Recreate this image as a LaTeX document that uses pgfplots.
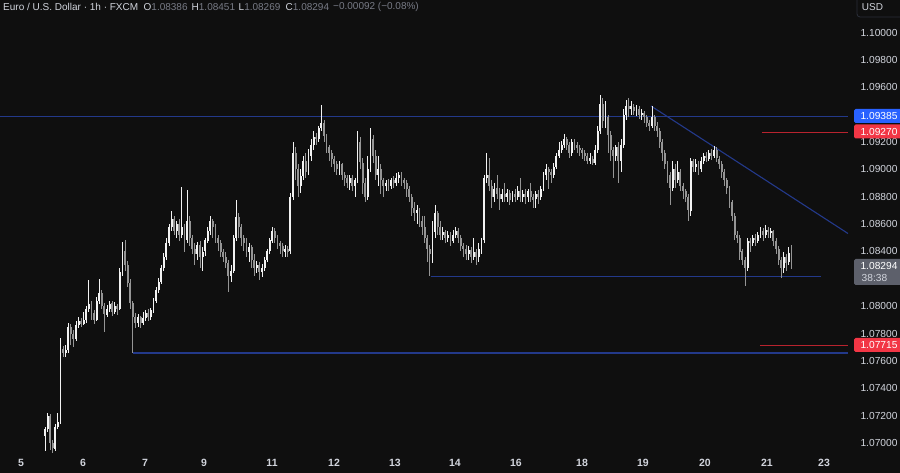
\documentclass[border=0pt]{standalone}
\usepackage{pgfplots}
\pgfplotsset{compat=1.18}
\usepackage{pgfplotstable}
\usepackage{fontspec}
\setmainfont{Liberation Sans}
\definecolor{bg}{HTML}{0F0F0F}
\definecolor{txt}{HTML}{D1D4DC}
\definecolor{dim}{HTML}{787B86}
\definecolor{upc}{HTML}{F2F2F2}
\definecolor{dnc}{HTML}{959595}
\definecolor{lblue}{HTML}{23398A}
\definecolor{lred}{HTML}{B8232E}
\definecolor{tblue}{HTML}{2962FF}
\definecolor{tred}{HTML}{F23645}
\definecolor{tgray}{HTML}{5D606B}
\definecolor{boxc}{HTML}{2A2E39}

\pgfplotstableread{
o h l c
1.0705 1.0712 1.0694 1.0710
1.0710 1.0722 1.0708 1.0720
1.0720 1.0721 1.0695 1.0700
1.0700 1.0702 1.0693 1.0696
1.0696 1.0714 1.0694 1.0712
1.0712 1.0722 1.0710 1.0715
1.0715 1.0777 1.0714 1.0769
1.0769 1.0771 1.0763 1.0766
1.0766 1.0772 1.0763 1.0768
1.0768 1.0788 1.0766 1.0785
1.0785 1.0787 1.0772 1.0780
1.0780 1.0783 1.0770 1.0776
1.0776 1.0789 1.0775 1.0786
1.0786 1.0792 1.0784 1.0789
1.0789 1.0791 1.0785 1.0787
1.0787 1.0796 1.0786 1.0790
1.0790 1.0800 1.0788 1.0798
1.0798 1.0819 1.0796 1.0802
1.0802 1.0804 1.0790 1.0795
1.0795 1.0797 1.0787 1.0790
1.0790 1.0807 1.0789 1.0804
1.0804 1.0820 1.0802 1.0810
1.0810 1.0812 1.0798 1.0800
1.0800 1.0802 1.0781 1.0794
1.0794 1.0801 1.0792 1.0798
1.0798 1.0804 1.0796 1.0802
1.0802 1.0804 1.0793 1.0796
1.0796 1.0803 1.0794 1.0800
1.0800 1.0802 1.0794 1.0798
1.0798 1.0828 1.0797 1.0825
1.0825 1.0847 1.0822 1.0840
1.0840 1.0848 1.0826 1.0830
1.0830 1.0833 1.0814 1.0817
1.0817 1.0820 1.0798 1.0802
1.0802 1.0804 1.0766 1.0792
1.0792 1.0795 1.0784 1.0788
1.0788 1.0794 1.0785 1.0792
1.0792 1.0793 1.0784 1.0788
1.0788 1.0796 1.0786 1.0791
1.0791 1.0797 1.0789 1.0795
1.0795 1.0798 1.0789 1.0792
1.0792 1.0799 1.0790 1.0797
1.0797 1.0806 1.0795 1.0804
1.0804 1.0814 1.0802 1.0812
1.0812 1.0821 1.0810 1.0818
1.0818 1.0830 1.0816 1.0828
1.0828 1.0839 1.0826 1.0836
1.0836 1.0850 1.0834 1.0846
1.0846 1.0860 1.0844 1.0858
1.0858 1.0870 1.0855 1.0864
1.0864 1.0866 1.0852 1.0855
1.0855 1.0862 1.0850 1.0860
1.0860 1.0864 1.0848 1.0852
1.0852 1.0887 1.0850 1.0858
1.0858 1.0860 1.0840 1.0848
1.0848 1.0885 1.0846 1.0862
1.0862 1.0866 1.0844 1.0850
1.0850 1.0852 1.0838 1.0842
1.0842 1.0846 1.0830 1.0838
1.0838 1.0847 1.0834 1.0845
1.0845 1.0848 1.0828 1.0836
1.0836 1.0843 1.0826 1.0840
1.0840 1.0850 1.0837 1.0848
1.0848 1.0858 1.0846 1.0855
1.0855 1.0866 1.0852 1.0862
1.0862 1.0864 1.0850 1.0858
1.0858 1.0860 1.0846 1.0850
1.0850 1.0852 1.0840 1.0846
1.0846 1.0848 1.0836 1.0840
1.0840 1.0842 1.0832 1.0836
1.0836 1.0840 1.0828 1.0832
1.0832 1.0834 1.0810 1.0822
1.0822 1.0830 1.0818 1.0826
1.0826 1.0852 1.0824 1.0850
1.0850 1.0878 1.0848 1.0865
1.0865 1.0868 1.0850 1.0858
1.0858 1.0860 1.0844 1.0850
1.0850 1.0852 1.0840 1.0846
1.0846 1.0850 1.0836 1.0840
1.0840 1.0846 1.0832 1.0843
1.0843 1.0845 1.0828 1.0834
1.0834 1.0838 1.0822 1.0828
1.0828 1.0833 1.0824 1.0830
1.0830 1.0832 1.0819 1.0825
1.0825 1.0831 1.0821 1.0828
1.0828 1.0836 1.0826 1.0834
1.0834 1.0842 1.0832 1.0840
1.0840 1.0850 1.0838 1.0848
1.0848 1.0858 1.0846 1.0855
1.0855 1.0857 1.0846 1.0850
1.0850 1.0852 1.0842 1.0846
1.0846 1.0848 1.0838 1.0844
1.0844 1.0846 1.0836 1.0840
1.0840 1.0845 1.0836 1.0842
1.0842 1.0844 1.0836 1.0840
1.0840 1.0883 1.0838 1.0880
1.0880 1.0920 1.0878 1.0912
1.0912 1.0916 1.0892 1.0900
1.0900 1.0904 1.0880 1.0888
1.0888 1.0900 1.0883 1.0895
1.0895 1.0910 1.0892 1.0906
1.0906 1.0912 1.0894 1.0898
1.0898 1.0915 1.0896 1.0910
1.0910 1.0922 1.0906 1.0918
1.0918 1.0928 1.0914 1.0924
1.0924 1.0927 1.0918 1.0922
1.0922 1.0932 1.0920 1.0930
1.0930 1.0947 1.0928 1.0934
1.0934 1.0936 1.0920 1.0924
1.0924 1.0926 1.0912 1.0916
1.0916 1.0918 1.0906 1.0912
1.0912 1.0914 1.0902 1.0908
1.0908 1.0910 1.0898 1.0904
1.0904 1.0906 1.0896 1.0900
1.0900 1.0906 1.0896 1.0904
1.0904 1.0905 1.0892 1.0896
1.0896 1.0898 1.0888 1.0894
1.0894 1.0896 1.0886 1.0890
1.0890 1.0896 1.0885 1.0894
1.0894 1.0896 1.0884 1.0888
1.0888 1.0894 1.0880 1.0892
1.0892 1.0928 1.0890 1.0920
1.0920 1.0924 1.0900 1.0905
1.0905 1.0908 1.0882 1.0890
1.0890 1.0894 1.0876 1.0880
1.0880 1.0910 1.0878 1.0900
1.0900 1.0930 1.0898 1.0922
1.0922 1.0925 1.0905 1.0910
1.0910 1.0914 1.0892 1.0896
1.0896 1.0910 1.0888 1.0900
1.0900 1.0904 1.0882 1.0892
1.0892 1.0894 1.0880 1.0888
1.0888 1.0892 1.0884 1.0890
1.0890 1.0893 1.0884 1.0888
1.0888 1.0894 1.0886 1.0892
1.0892 1.0895 1.0886 1.0890
1.0890 1.0897 1.0888 1.0894
1.0894 1.0898 1.0890 1.0896
1.0896 1.0898 1.0888 1.0892
1.0892 1.0894 1.0886 1.0890
1.0890 1.0892 1.0880 1.0886
1.0886 1.0888 1.0876 1.0880
1.0880 1.0882 1.0866 1.0872
1.0872 1.0876 1.0862 1.0868
1.0868 1.0874 1.0860 1.0870
1.0870 1.0872 1.0858 1.0862
1.0862 1.0866 1.0852 1.0858
1.0858 1.0866 1.0846 1.0850
1.0850 1.0852 1.0832 1.0842
1.0842 1.0845 1.0822 1.0838
1.0838 1.0862 1.0832 1.0854
1.0854 1.0874 1.0850 1.0868
1.0868 1.0870 1.0852 1.0858
1.0858 1.0862 1.0848 1.0852
1.0852 1.0858 1.0848 1.0854
1.0854 1.0856 1.0846 1.0850
1.0850 1.0855 1.0847 1.0852
1.0852 1.0854 1.0844 1.0848
1.0848 1.0856 1.0846 1.0852
1.0852 1.0858 1.0850 1.0855
1.0855 1.0857 1.0846 1.0850
1.0850 1.0852 1.0840 1.0844
1.0844 1.0846 1.0836 1.0842
1.0842 1.0845 1.0834 1.0838
1.0838 1.0844 1.0834 1.0841
1.0841 1.0843 1.0832 1.0836
1.0836 1.0850 1.0834 1.0840
1.0840 1.0842 1.0830 1.0836
1.0836 1.0846 1.0832 1.0842
1.0842 1.0850 1.0838 1.0848
1.0848 1.0896 1.0846 1.0894
1.0894 1.0912 1.0890 1.0896
1.0896 1.0908 1.0884 1.0888
1.0888 1.0892 1.0872 1.0880
1.0880 1.0890 1.0876 1.0886
1.0886 1.0896 1.0878 1.0882
1.0882 1.0886 1.0870 1.0878
1.0878 1.0886 1.0876 1.0882
1.0882 1.0890 1.0876 1.0880
1.0880 1.0886 1.0876 1.0883
1.0883 1.0885 1.0874 1.0878
1.0878 1.0884 1.0876 1.0882
1.0882 1.0886 1.0876 1.0880
1.0880 1.0888 1.0878 1.0884
1.0884 1.0894 1.0876 1.0880
1.0880 1.0885 1.0876 1.0882
1.0882 1.0886 1.0875 1.0880
1.0880 1.0886 1.0876 1.0884
1.0884 1.0890 1.0876 1.0880
1.0880 1.0882 1.0872 1.0878
1.0878 1.0884 1.0872 1.0882
1.0882 1.0885 1.0875 1.0880
1.0880 1.0888 1.0878 1.0886
1.0886 1.0898 1.0884 1.0896
1.0896 1.0904 1.0892 1.0900
1.0900 1.0902 1.0886 1.0898
1.0898 1.0900 1.0890 1.0896
1.0896 1.0905 1.0894 1.0902
1.0902 1.0912 1.0900 1.0910
1.0910 1.0920 1.0908 1.0914
1.0914 1.0921 1.0912 1.0918
1.0918 1.0926 1.0916 1.0922
1.0922 1.0924 1.0914 1.0918
1.0918 1.0920 1.0908 1.0912
1.0912 1.0922 1.0910 1.0920
1.0920 1.0922 1.0914 1.0918
1.0918 1.0920 1.0912 1.0916
1.0916 1.0918 1.0910 1.0914
1.0914 1.0916 1.0908 1.0912
1.0912 1.0914 1.0906 1.0910
1.0910 1.0912 1.0904 1.0906
1.0906 1.0912 1.0904 1.0908
1.0908 1.0910 1.0903 1.0905
1.0905 1.0918 1.0903 1.0914
1.0914 1.0932 1.0912 1.0928
1.0928 1.0954 1.0926 1.0948
1.0948 1.0952 1.0930 1.0935
1.0935 1.0950 1.0930 1.0938
1.0938 1.0940 1.0912 1.0925
1.0925 1.0928 1.0906 1.0914
1.0914 1.0916 1.0894 1.0910
1.0910 1.0918 1.0906 1.0916
1.0916 1.0920 1.0890 1.0906
1.0906 1.0922 1.0898 1.0918
1.0918 1.0944 1.0916 1.0940
1.0940 1.0951 1.0936 1.0946
1.0946 1.0952 1.0938 1.0944
1.0944 1.0950 1.0940 1.0946
1.0946 1.0948 1.0940 1.0943
1.0943 1.0947 1.0939 1.0944
1.0944 1.0946 1.0937 1.0940
1.0940 1.0944 1.0936 1.0941
1.0941 1.0943 1.0934 1.0938
1.0938 1.0940 1.0931 1.0934
1.0934 1.0936 1.0928 1.0932
1.0932 1.0946 1.0930 1.0938
1.0938 1.0940 1.0928 1.0932
1.0932 1.0935 1.0924 1.0928
1.0928 1.0930 1.0916 1.0920
1.0920 1.0922 1.0906 1.0912
1.0912 1.0914 1.0900 1.0904
1.0904 1.0906 1.0890 1.0896
1.0896 1.0898 1.0874 1.0886
1.0886 1.0906 1.0884 1.0900
1.0900 1.0904 1.0886 1.0892
1.0892 1.0906 1.0890 1.0898
1.0898 1.0900 1.0884 1.0888
1.0888 1.0890 1.0878 1.0884
1.0884 1.0886 1.0876 1.0880
1.0880 1.0882 1.0862 1.0870
1.0870 1.0908 1.0866 1.0906
1.0906 1.0908 1.0898 1.0902
1.0902 1.0908 1.0898 1.0904
1.0904 1.0906 1.0896 1.0900
1.0900 1.0909 1.0898 1.0906
1.0906 1.0912 1.0904 1.0910
1.0910 1.0913 1.0905 1.0908
1.0908 1.0914 1.0906 1.0912
1.0912 1.0915 1.0907 1.0910
1.0910 1.0917 1.0908 1.0914
1.0914 1.0916 1.0905 1.0908
1.0908 1.0910 1.0900 1.0904
1.0904 1.0906 1.0894 1.0898
1.0898 1.0900 1.0888 1.0892
1.0892 1.0894 1.0882 1.0886
1.0886 1.0888 1.0872 1.0876
1.0876 1.0878 1.0862 1.0866
1.0866 1.0868 1.0848 1.0852
1.0852 1.0855 1.0846 1.0850
1.0850 1.0852 1.0834 1.0840
1.0840 1.0842 1.0830 1.0834
1.0834 1.0836 1.0815 1.0828
1.0828 1.0850 1.0826 1.0848
1.0848 1.0850 1.0840 1.0846
1.0846 1.0852 1.0844 1.0850
1.0850 1.0853 1.0844 1.0848
1.0848 1.0854 1.0846 1.0852
1.0852 1.0858 1.0850 1.0855
1.0855 1.0857 1.0848 1.0852
1.0852 1.0859 1.0850 1.0856
1.0856 1.0858 1.0850 1.0854
1.0854 1.0857 1.0850 1.0855
1.0855 1.0856 1.0844 1.0848
1.0848 1.0850 1.0838 1.0842
1.0842 1.0844 1.0830 1.0834
1.0834 1.0836 1.0821 1.0828
1.0828 1.0840 1.0824 1.0836
1.0836 1.0838 1.0826 1.0832
1.0832 1.0843 1.0830 1.08386
1.08386 1.08451 1.08269 1.08294
}\candles

\begin{document}
\begin{tikzpicture}
\useasboundingbox (0pt,0pt) rectangle (900pt,473pt);
\fill[bg] (0pt,0pt) rectangle (900pt,473pt);
\begin{axis}[
  at={(0pt,20pt)}, anchor=south west, scale only axis,
  width=848pt, height=453pt,
  xmin=-17.42, xmax=310.88, ymin=1.069269, ymax=1.102375,
  axis line style={draw=none}, tick style={draw=none}, major tick length=0pt,
  scaled y ticks=false, scaled x ticks=false,
  xtick={-9.3,14.7,38.7,61.6,87.9,111.9,135.5,158.7,182.3,207.9,231.5,255.5,279.5,301.6},
  xticklabels={5,6,7,9,11,12,13,14,16,18,19,20,21,23},
  ytick={1.070,1.072,1.074,1.076,1.078,1.080,1.084,1.086,1.088,1.090,1.092,1.096,1.098,1.100},
  yticklabel pos=right,
  yticklabel={\pgfmathprintnumber[fixed,fixed zerofill,precision=5]{\tick}},
  /pgf/number format/assume math mode=true,
  xticklabel style={font=\fontsize{10.5}{12}\selectfont\bfseries, text=txt, anchor=center, yshift=-10pt, inner sep=0pt},
  yticklabel style={font=\fontsize{10.2}{12}\selectfont, text=txt, anchor=center, xshift=31pt, inner sep=0pt},
  clip=true,
]
% drawn levels (beneath the candles)
\addplot[lblue, line width=1.1pt] coordinates {(-17.42,1.09385) (310.88,1.09385)};
\addplot[lblue, line width=1.1pt] coordinates {(34,1.07658) (310.88,1.07658)};
\addplot[lblue, line width=1.1pt] coordinates {(149.3,1.08216) (300.4,1.08216)};
\addplot[lblue, line width=1.1pt] coordinates {(234.6,1.09463) (310.88,1.08531)};
\addplot[lred, line width=1.1pt] coordinates {(277.6,1.0927) (310.88,1.0927)};
\addplot[lred, line width=1.1pt] coordinates {(276.8,1.07715) (310.88,1.07715)};
% wicks
\addplot[draw=none, forget plot, error bars/.cd, y dir=both, y explicit, error mark=none,
  error bar style={draw=dnc, line width=0.9pt}]
  table[x expr=\coordindex, y expr={\thisrow{c}<\thisrow{o} ? (\thisrow{h}+\thisrow{l})/2 : nan},
        y error expr={(\thisrow{h}-\thisrow{l})/2}] {\candles};
\addplot[draw=none, forget plot, error bars/.cd, y dir=both, y explicit, error mark=none,
  error bar style={draw=upc, line width=0.9pt}]
  table[x expr=\coordindex, y expr={\thisrow{c}>=\thisrow{o} ? (\thisrow{h}+\thisrow{l})/2 : nan},
        y error expr={(\thisrow{h}-\thisrow{l})/2}] {\candles};
% bodies
\addplot[draw=none, forget plot, error bars/.cd, y dir=both, y explicit, error mark=none,
  error bar style={draw=dnc, line width=1.9pt}]
  table[x expr=\coordindex, y expr={\thisrow{c}<\thisrow{o} ? (\thisrow{o}+\thisrow{c})/2 : nan},
        y error expr={max(abs(\thisrow{c}-\thisrow{o})/2,0.000012)}] {\candles};
\addplot[draw=none, forget plot, error bars/.cd, y dir=both, y explicit, error mark=none,
  error bar style={draw=upc, line width=1.9pt}]
  table[x expr=\coordindex, y expr={\thisrow{c}>=\thisrow{o} ? (\thisrow{o}+\thisrow{c})/2 : nan},
        y error expr={max(abs(\thisrow{c}-\thisrow{o})/2,0.000012)}] {\candles};
\end{axis}
% price tags
\fill[tblue, rounded corners=1.5pt] (854pt,350pt) rectangle (902pt,364pt);
\node[text=white, font=\fontsize{10.2}{12}\selectfont, inner sep=0pt] at (879pt,357pt) {1.09385};
\fill[tred, rounded corners=1.5pt] (854pt,334.5pt) rectangle (902pt,348.5pt);
\node[text=white, font=\fontsize{10.2}{12}\selectfont, inner sep=0pt] at (879pt,341.5pt) {1.09270};
\fill[tgray, rounded corners=1.5pt] (854pt,188pt) rectangle (902pt,214pt);
\node[text=white, font=\fontsize{10.2}{12}\selectfont, inner sep=0pt] at (879pt,207pt) {1.08294};
\node[text=txt, font=\fontsize{10.2}{12}\selectfont, inner sep=0pt, anchor=west] at (861.5pt,195pt) {38:38};
\fill[tred, rounded corners=1.5pt] (854pt,121pt) rectangle (902pt,135pt);
\node[text=white, font=\fontsize{10.2}{12}\selectfont, inner sep=0pt] at (879pt,128pt) {1.07715};
% currency box
\draw[boxc, line width=0.8pt, rounded corners=3pt] (857pt,456pt) rectangle (906pt,480pt);
\node[text=txt, font=\fontsize{10}{12}\selectfont, inner sep=0pt] at (872.5pt,466pt) {USD};
% header
\begin{scope}[every node/.style={font=\fontsize{10}{12}\selectfont, inner sep=0pt, anchor=west, text=txt}]
\node at (3pt,466pt) {Euro / U.S. Dollar · 1h · FXCM};
\node at (143.5pt,466pt) {O\textcolor{dim}{1.08386}};
\node at (191.5pt,466pt) {H\textcolor{dim}{1.08451}};
\node at (238.5pt,466pt) {L\textcolor{dim}{1.08269}};
\node at (285.5pt,466pt) {C\textcolor{dim}{1.08294}};
\node[text=dim] at (333pt,466pt) {−0.00092 (−0.08\%)};
\end{scope}
\end{tikzpicture}
\end{document}
